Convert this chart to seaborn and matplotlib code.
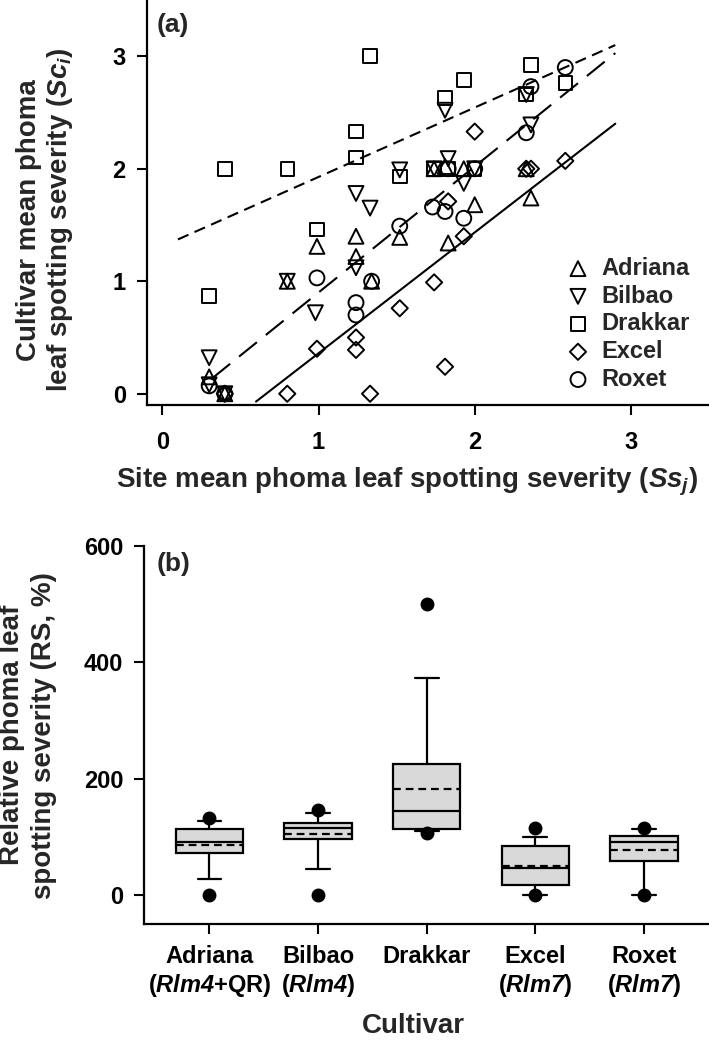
import matplotlib
matplotlib.use("Agg")
import matplotlib.pyplot as plt
import seaborn as sns
import numpy as np

# ---- panel (a) data: site mean (x) vs cultivar mean (y) ----
cultivars = ["Adriana", "Bilbao", "Drakkar", "Excel", "Roxet"]

adriana_x = [0.30, 0.40, 0.80, 0.99, 1.24, 1.24, 1.34, 1.52, 1.74, 1.81, 1.83, 1.93, 2.00, 2.33, 2.36]
adriana_y = [0.15, 0.00, 1.00, 1.31, 1.40, 1.22, 1.00, 1.39, 2.00, 2.02, 1.34, 2.00, 1.68, 2.00, 1.74]

bilbao_x = [0.30, 0.30, 0.40, 0.80, 0.98, 1.24, 1.24, 1.33, 1.52, 1.74, 1.81, 1.83, 1.93, 2.00, 2.33, 2.36]
bilbao_y = [0.32, 0.08, 0.00, 1.00, 0.72, 1.78, 1.12, 1.65, 1.99, 2.00, 2.52, 2.09, 1.87, 2.00, 2.66, 2.39]

drakkar_x = [0.30, 0.40, 0.80, 0.99, 1.24, 1.24, 1.33, 1.52, 1.74, 1.81, 1.83, 1.93, 2.00, 2.33, 2.36, 2.58]
drakkar_y = [0.87, 2.00, 2.00, 1.46, 2.33, 2.10, 3.00, 1.93, 2.00, 2.63, 2.00, 2.79, 2.00, 2.66, 2.92, 2.76]

excel_x = [0.40, 0.80, 0.99, 1.24, 1.24, 1.33, 1.52, 1.74, 1.81, 1.83, 1.93, 2.00, 2.33, 2.36, 2.58]
excel_y = [0.00, 0.00, 0.40, 0.50, 0.39, 0.00, 0.76, 0.99, 0.24, 1.71, 1.40, 2.33, 2.00, 2.00, 2.07]

roxet_x = [0.30, 0.40, 0.99, 1.24, 1.24, 1.34, 1.52, 1.73, 1.81, 1.83, 1.93, 2.00, 2.33, 2.36, 2.58]
roxet_y = [0.07, 0.00, 1.03, 0.81, 0.70, 1.00, 1.49, 1.66, 1.62, 2.00, 1.56, 2.00, 2.32, 2.73, 2.90]

# regression lines: (x start, x end, slope, intercept)
drakkar_fit = [0.10, 2.90, 0.617, 1.31]
others_fit = [0.32, 2.90, 1.12, -0.22]
excel_fit = [0.60, 2.90, 1.074, -0.714]

# ---- panel (b) data: relative spotting severity box stats ----
box_labels = ["Adriana\n($\\mathit{Rlm4}$+QR)", "Bilbao\n($\\mathit{Rlm4}$)", "Drakkar",
              "Excel\n($\\mathit{Rlm7}$)", "Roxet\n($\\mathit{Rlm7}$)"]
rs_whislo = [27, 45, 110, 0, 0]
rs_q1 = [73, 97, 114, 17, 58]
rs_med = [91.5, 115, 145, 47, 91]
rs_mean = [86, 106, 183, 51, 77]
rs_q3 = [113, 124, 225, 84, 102]
rs_whishi = [127, 141, 373, 100, 113]
rs_p5 = [0, 0, 107, 0, 0]
rs_p95 = [132, 146, 500, 115, 116]


sns.set_style("ticks")
plt.rcParams["font.family"] = ["Liberation Sans", "DejaVu Sans"]
plt.rcParams["font.weight"] = "bold"
plt.rcParams["mathtext.fontset"] = "custom"
plt.rcParams["mathtext.rm"] = "Liberation Sans:italic:bold"
plt.rcParams["mathtext.it"] = "Liberation Sans:italic:bold"
plt.rcParams["mathtext.bf"] = "Liberation Sans:italic:bold"

W, H = 709, 1044
fig = plt.figure(figsize=(W / 100, H / 100), dpi=100)
ax_a = fig.add_axes([146.7 / W, 1 - 405 / H, 1 - 146.7 / W, 405 / H])
ax_b = fig.add_axes([144.3 / W, 1 - 924.3 / H, 1 - 144.3 / W, (924.3 - 546) / H])

# ---------- (a) ----------
series = {
    "Adriana": (adriana_x, adriana_y, "^", 115),
    "Bilbao": (bilbao_x, bilbao_y, "v", 115),
    "Drakkar": (drakkar_x, drakkar_y, "s", 95),
    "Excel": (excel_x, excel_y, "D", 68),
    "Roxet": (roxet_x, roxet_y, "o", 115),
}
for name in cultivars:
    xs, ys, mk, size = series[name]
    sns.scatterplot(x=xs, y=ys, marker=mk, s=size, facecolor="none", edgecolor="black",
                    linewidth=1.4, label=name, ax=ax_a, zorder=3)

for fit, ls in [(drakkar_fit, (0, (5.5, 3.2))), (others_fit, (0, (11, 5.5))), (excel_fit, "-")]:
    x0, x1, slope, icpt = fit
    xs = np.array([x0, x1])
    sns.lineplot(x=xs, y=slope * xs + icpt, color="black", linewidth=1.5, linestyle=ls, ax=ax_a)

ax_a.set_xlim(-0.1, 3.5)
ax_a.set_ylim(-0.1, 3.5)
ax_a.set_xticks([0, 1, 2, 3])
ax_a.set_yticks([0, 1, 2, 3])
ax_a.set_xlabel("Site mean phoma leaf spotting severity ($\\mathit{Ss}_{\\mathit{j}}$)", fontsize=20, weight="bold")
ax_a.xaxis.set_label_coords(0.463, -0.15)
ax_a.set_ylabel("Cultivar mean phoma\nleaf spotting severity ($\\mathit{Sc}_{\\mathit{i}}$)", fontsize=20,
                weight="bold", linespacing=1.15)
ax_a.yaxis.set_label_coords(-0.1275, 0.457)
ax_a.text(0.018, 0.968, "(a)", transform=ax_a.transAxes, fontsize=19, weight="bold", va="top")
leg = ax_a.legend(frameon=False, loc="upper left", bbox_to_anchor=(0.725, 0.395), fontsize=17,
                  handletextpad=0.5, labelspacing=0.2, borderpad=0, handlelength=1.0)
for t in leg.get_texts():
    t.set_fontweight("bold")

# ---------- (b) ----------
stats = []
for i in range(len(box_labels)):
    stats.append({
        "med": rs_med[i], "mean": rs_mean[i], "q1": rs_q1[i], "q3": rs_q3[i],
        "whislo": rs_whislo[i], "whishi": rs_whishi[i], "fliers": [rs_p5[i], rs_p95[i]],
    })
ax_b.bxp(stats, positions=list(range(5)), widths=0.62, capwidths=0.22, patch_artist=True,
         showmeans=True, meanline=True, showfliers=True,
         boxprops=dict(facecolor="#d9d9d9", edgecolor="black", linewidth=1.6),
         medianprops=dict(color="black", linewidth=1.6),
         meanprops=dict(color="black", linestyle=(0, (3.5, 2.2)), linewidth=1.6),
         whiskerprops=dict(color="black", linewidth=1.6),
         capprops=dict(color="black", linewidth=1.6),
         flierprops=dict(marker="o", markerfacecolor="black", markeredgecolor="black", markersize=9))
ax_b.set_xlim(-0.6, 4.6)
ax_b.set_ylim(-50, 600)
ax_b.set_yticks([0, 200, 400, 600])
ax_b.set_xticks(list(range(5)))
ax_b.set_xticklabels(box_labels)
ax_b.set_xlabel("Cultivar", fontsize=20, weight="bold")
ax_b.xaxis.set_label_coords(0.476, -0.234)
ax_b.set_ylabel("Relative phoma leaf\nspotting severity (RS, %)", fontsize=20, weight="bold", linespacing=1.3)
ax_b.yaxis.set_label_coords(-0.155, 0.5)
ax_b.text(0.022, 0.985, "(b)", transform=ax_b.transAxes, fontsize=19, weight="bold", va="top")

for ax in (ax_a, ax_b):
    sns.despine(ax=ax)
    for side in ("left", "bottom"):
        ax.spines[side].set_linewidth(1.6)
        ax.spines[side].set_color("black")
    ax.tick_params(direction="out", length=7, width=1.5, labelsize=17, pad=8, colors="black")
    for lab in ax.get_xticklabels() + ax.get_yticklabels():
        lab.set_fontweight("bold")
ax_a.tick_params(axis="x", pad=12)

fig.savefig("out.png", dpi=100)
